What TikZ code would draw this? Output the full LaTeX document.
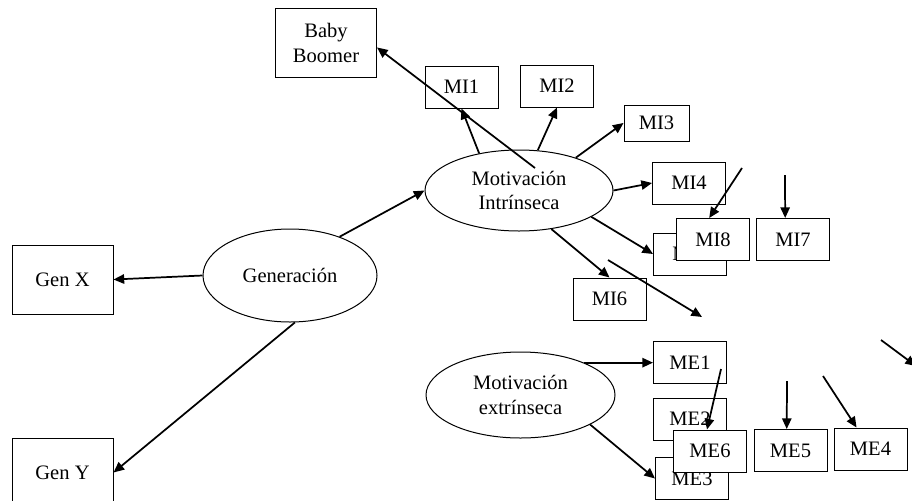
\documentclass[tikz,border=0pt]{standalone}
\usepackage{fontspec}
\setmainfont{Liberation Serif}
\usetikzlibrary{shapes.geometric,arrows.meta}

\begin{document}
\begin{tikzpicture}[x=0.75pt, y=-0.75pt,
    box/.style={draw=black, fill=white, line width=0.75pt, inner sep=0pt, minimum width=54.75pt, minimum height=31.5pt},
    bigbox/.style={box, minimum width=75.75pt, minimum height=51.75pt, align=center},
    latent/.style={ellipse, draw=black, line width=0.75pt, inner sep=0pt, align=center},
    arr/.style={-{Triangle[length=8pt,width=7pt]}, line width=1.3pt},
    font=\fontsize{15.4}{18.5}\selectfont]
    \useasboundingbox (0,0) rectangle (912,500);

    % latentes
    \node[latent, minimum width=130.5pt, minimum height=69.75pt] (gen) at (290,275.5) {Generación};
    \node[latent, minimum width=141pt, minimum height=60.75pt] (mi) at (519,190.5) {Motivación\\Intrínseca};
    \node[latent, minimum width=141.75pt, minimum height=64.5pt] (me) at (520.5,395) {Motivación\\extrínseca};

    % generaciones
    \node[bigbox] (bb) at (326,43) {Baby\\Boomer};
    \node[bigbox] (genx) at (62.5,279.5) {Gen X};
    \node[bigbox] (geny) at (62.5,472.5) {Gen Y};

    % indicadores intrinseca
    \node[box] (mi1) at (461.5,87) {MI1};
    \node[box] (mi2) at (557,86) {MI2};
    \node[box, minimum width=48.75pt, minimum height=27pt] (mi3) at (656.5,123) {MI3};
    \node[box] (mi4) at (689,183) {MI4};
    \node[box] (mi5) at (690,254) {MI5};
    \node[box] (mi8) at (713,239.5) {MI8};
    \node[box] (mi7) at (793,239.5) {MI7};
    \node[box] (mi6) at (609.5,299) {MI6};

    % indicadores extrinseca
    \node[box] (me1) at (690,362.5) {ME1};
    \node[box] (me2) at (690,419) {ME2};
    \node[box] (me3) at (692,478.5) {ME3};
    \node[box] (me6) at (710,451) {ME6};
    \node[box] (me5) at (790.5,450.5) {ME5};
    \node[box] (me4) at (870.5,449) {ME4};

    % puntas sueltas
    \coordinate (mibb) at (535,168);
    \coordinate (a1) at (608,260); \coordinate (a1e) at (702,317);
    \coordinate (a8) at (742,168);
    \coordinate (a7) at (785,175);
    \coordinate (e6) at (721,369);
    \coordinate (e5) at (787,381);
    \coordinate (e4) at (823,376);
    \coordinate (ex) at (881,340); \coordinate (exe) at (916,366);

    \draw[arr] (gen.west) -- (genx.east);
    \draw[arr] (gen.-84) -- (geny.east);
    \draw[arr] (gen.38) -- (mi.west);

    \draw[arr] (mibb) -- (bb.-5);
    \draw[arr] (mi.137) -- (mi1.south);
    \draw[arr] (mi.65) -- (mi2.south);
    \draw[arr] (mi.30) -- (mi3.west);
    \draw[arr] (mi.east) -- (mi4.west);
    \draw[arr] (mi.-20) -- (mi5.west);
    \draw[arr] (mi.-50) -- (mi6.north);
    \draw[arr] (a1) -- (a1e);
    \draw[arr] (a8) -- (mi8.100);
    \draw[arr] (a7) -- (mi7.110);

    \draw[arr] (me.27) -- (me.27 -| me1.west);
    \draw[arr] (me.-23) -- (me3.west);
    \draw[arr] (e6) -- (me6.98);
    \draw[arr] (e5) -- (me5.100);
    \draw[arr] (e4) -- (me4.123);
    \draw[arr] (ex) -- (exe);
\end{tikzpicture}
\end{document}
